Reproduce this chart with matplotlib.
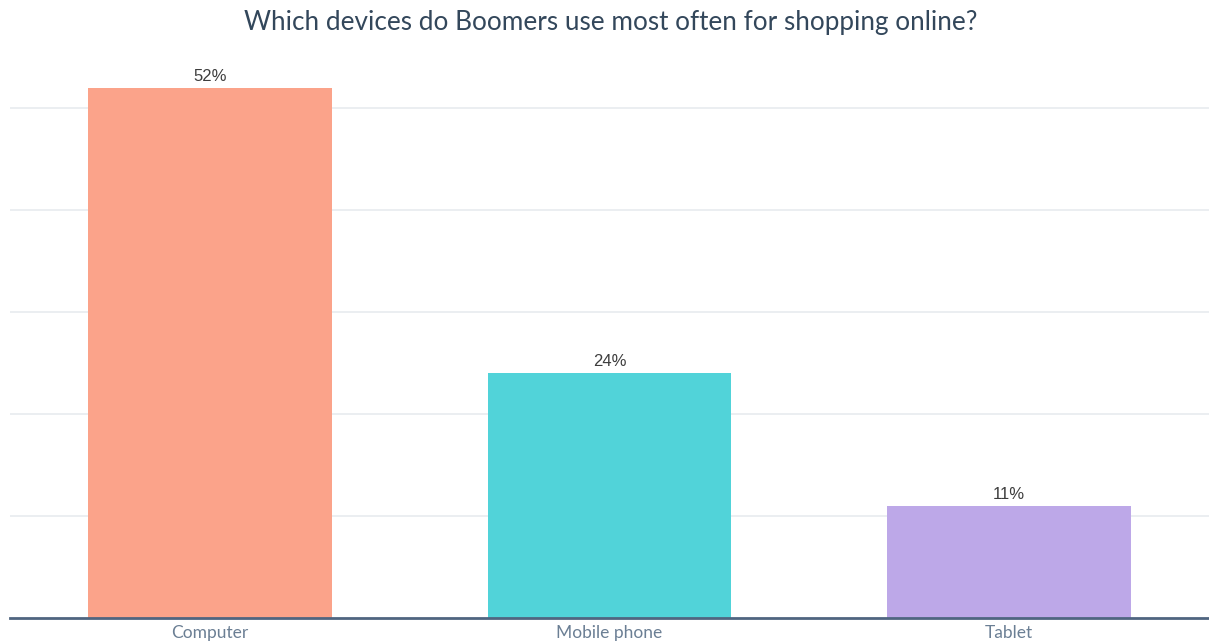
import matplotlib.pyplot as plt

devices = ["Computer", "Mobile phone", "Tablet"]
shares = [52, 24, 11]
bar_colors = ["#FBA38A", "#51D3D9", "#BDA8E8"]
grid_levels = [10, 20, 30, 40, 50]

plt.rcParams["font.family"] = ["Lato", "DejaVu Sans"]

fig = plt.figure(figsize=(12.09, 6.44), dpi=100)
ax = fig.add_axes([10 / 1209, 26 / 644, 1 - 10 / 1209, 0.871])

x = range(len(devices))
bars = ax.bar(x, shares, width=0.61, color=bar_colors, zorder=2)
for bar, val in zip(bars, shares):
    ax.text(bar.get_x() + bar.get_width() / 2, val + 0.4, f"{val}%",
            ha="center", va="bottom", fontsize=12, color="#3d3d3d",
            family=["Liberation Sans", "DejaVu Sans"])

ax.set_xlim(-0.5, 2.5)
ax.set_ylim(0, 55)
ax.set_yticks(grid_levels)
ax.yaxis.grid(True, color="#e8ebef", linewidth=1.2, zorder=0)
ax.tick_params(axis="y", left=False, labelleft=False)
ax.set_xticks(list(x), devices)
ax.tick_params(axis="x", length=0, pad=5, labelsize=12.5, labelcolor="#6b7f94")

for side in ("top", "right", "left"):
    ax.spines[side].set_visible(False)
ax.spines["bottom"].set_color("#4f6580")
ax.spines["bottom"].set_linewidth(2)

fig.text(0.505, 0.965, "Which devices do Boomers use most often for shopping online?",
         ha="center", va="center", fontsize=18.8, color="#33475b")

fig.savefig("out.png", dpi=100, facecolor="white")
